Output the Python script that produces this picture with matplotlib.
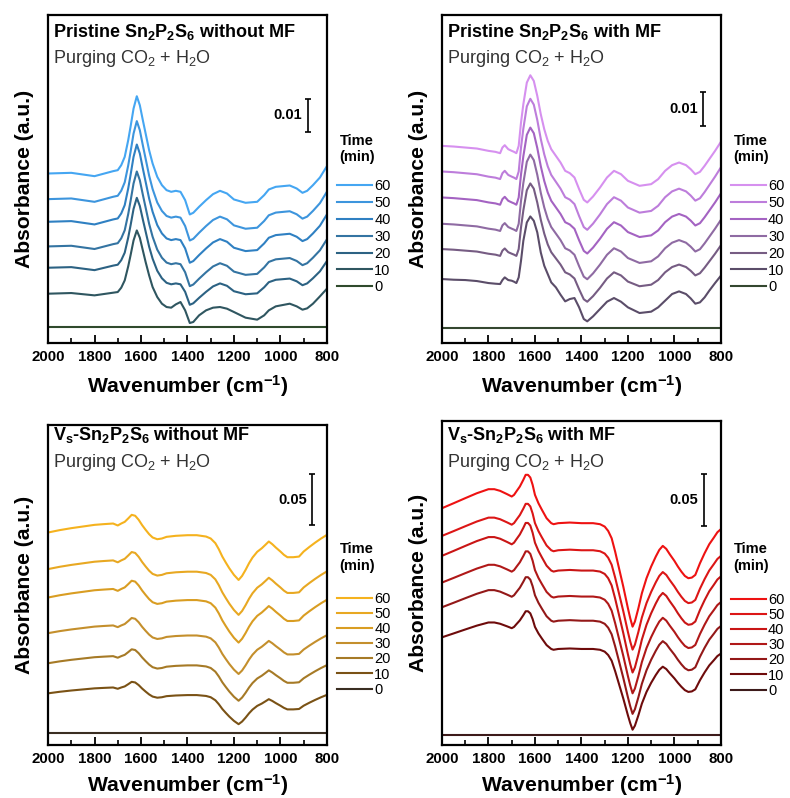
import matplotlib.pyplot as plt
from matplotlib.ticker import MultipleLocator

plt.rcParams['font.family'] = 'Liberation Sans'
plt.rcParams['mathtext.fontset'] = 'custom'
plt.rcParams['mathtext.rm'] = 'Liberation Sans'
plt.rcParams['mathtext.bf'] = 'Liberation Sans:bold'
plt.rcParams['mathtext.it'] = 'Liberation Sans:italic'

times = [60, 50, 40, 30, 20, 10, 0]

# --- Pristine Sn2P2S6 without MF ---
wn_a = [2000, 1900, 1800, 1720, 1700, 1685, 1670, 1655, 1645, 1632, 1618, 1605, 1592, 1580,
        1565, 1550, 1530, 1510, 1490, 1470, 1450, 1430, 1410, 1390, 1375, 1350, 1320, 1290,
        1260, 1230, 1200, 1150, 1100, 1070, 1050, 1020, 990, 960, 930, 905, 885, 860, 830, 800]
late_a = [0, 0.0002, -0.0008, 0.0007, 0.0010, 0.0025, 0.0050, 0.0100, 0.0140, 0.0195, 0.0232,
          0.0205, 0.0160, 0.0120, 0.0070, 0.0030, -0.0010, -0.0035, -0.0050, -0.0055, -0.0052,
          -0.0055, -0.0080, -0.0123, -0.0118, -0.0100, -0.0080, -0.0062, -0.0052, -0.0060,
          -0.0078, -0.0088, -0.0085, -0.0065, -0.0048, -0.0040, -0.0038, -0.0036, -0.0045,
          -0.0058, -0.0052, -0.0035, -0.0012, 0.0022]
first_a = [0, 0.0002, -0.0005, 0.0003, 0.0005, 0.0018, 0.0040, 0.0082, 0.0115, 0.0160, 0.0190,
           0.0168, 0.0130, 0.0095, 0.0055, 0.0020, -0.0010, -0.0030, -0.0040, -0.0042, -0.0032,
           -0.0025, -0.0050, -0.0088, -0.0085, -0.0065, -0.0050, -0.0042, -0.0040, -0.0045,
           -0.0055, -0.0072, -0.0078, -0.0065, -0.0050, -0.0038, -0.0034, -0.0030, -0.0038,
           -0.0048, -0.0044, -0.0030, -0.0008, 0.0015]
offset_a = [0.0461, 0.0384, 0.0316, 0.0242, 0.0178, 0.0100]
scale_a = [1.0, 1.01, 1.0, 0.97, 0.905]
colors_a = ['#45a6f2', '#3d95dd', '#2f80c2', '#3474a2', '#2c6283', '#2f5660', '#2f4a2c']

# --- Pristine Sn2P2S6 with MF ---
wn_b = [2000, 1950, 1900, 1850, 1800, 1770, 1750, 1740, 1730, 1715, 1700, 1690, 1680, 1670,
        1660, 1650, 1635, 1620, 1605, 1590, 1575, 1560, 1545, 1530, 1510, 1490, 1470, 1450,
        1430, 1410, 1390, 1375, 1350, 1320, 1290, 1260, 1230, 1200, 1150, 1100, 1070, 1040,
        1010, 980, 950, 930, 910, 890, 870, 850, 825, 800]
late_b = [0, -0.0002, -0.0005, -0.0008, -0.0015, -0.0018, -0.0022, -0.0005, 0.0002, -0.0010,
          -0.0015, -0.0018, -0.0022, 0.0000, 0.0070, 0.0125, 0.0190, 0.0212, 0.0195, 0.0150,
          0.0095, 0.0050, 0.0015, -0.0010, -0.0030, -0.0050, -0.0075, -0.0082, -0.0095,
          -0.0130, -0.0162, -0.0170, -0.0152, -0.0125, -0.0095, -0.0075, -0.0085, -0.0105,
          -0.0120, -0.0115, -0.0100, -0.0075, -0.0058, -0.0050, -0.0058, -0.0070, -0.0085,
          -0.0078, -0.0060, -0.0040, -0.0015, 0.0012]
first_b = [0, -0.0002, -0.0003, -0.0006, -0.0012, -0.0014, -0.0015, -0.0003, 0.0005, -0.0003,
           -0.0005, -0.0008, -0.0012, 0.0005, 0.0055, 0.0115, 0.0170, 0.0188, 0.0175, 0.0140,
           0.0080, 0.0040, 0.0015, -0.0010, -0.0025, -0.0047, -0.0067, -0.0060, -0.0057,
           -0.0085, -0.0120, -0.0127, -0.0112, -0.0090, -0.0068, -0.0057, -0.0068, -0.0085,
           -0.0102, -0.0098, -0.0085, -0.0065, -0.0045, -0.0037, -0.0045, -0.0058, -0.0074,
           -0.0070, -0.0055, -0.0035, -0.0012, 0.0010]
offset_b = [0.0547, 0.0470, 0.0392, 0.0313, 0.0237, 0.0147]
scale_b = [1.0, 1.03, 0.99, 0.98, 0.93]
colors_b = ['#d690ef', '#bd7ddb', '#a463c2', '#8f6ba3', '#765c83', '#5b4d69', '#34472f']

# --- Vs-Sn2P2S6 without MF ---
wn_c = [2000, 1950, 1900, 1850, 1800, 1760, 1720, 1700, 1685, 1670, 1655, 1640, 1625, 1610,
        1595, 1580, 1565, 1550, 1530, 1510, 1490, 1450, 1400, 1360, 1320, 1300, 1280, 1265,
        1250, 1235, 1220, 1200, 1180, 1165, 1150, 1135, 1120, 1100, 1080, 1065, 1050, 1035,
        1020, 1000, 985, 970, 945, 920, 900, 875, 850, 825, 800]
late_c = [0, 0.0023, 0.0042, 0.0058, 0.0074, 0.0081, 0.0087, 0.0068, 0.0087, 0.0103, 0.0136,
          0.0171, 0.0162, 0.0123, 0.0071, 0.0026, -0.0016, -0.0048, -0.0065, -0.0058, -0.0042,
          -0.0032, -0.0026, -0.0026, -0.0039, -0.0058, -0.0103, -0.0162, -0.0233, -0.0291,
          -0.0346, -0.0410, -0.0459, -0.0420, -0.0362, -0.0297, -0.0242, -0.0187, -0.0152,
          -0.0120, -0.0087, -0.0113, -0.0145, -0.0184, -0.0216, -0.0239, -0.0239, -0.0233,
          -0.0184, -0.0139, -0.0097, -0.0058, -0.0023]
offset_c = [0.1940, 0.1586, 0.1311, 0.0966, 0.0675, 0.0384]
scale_c = [1.0, 0.965, 0.95, 0.86, 0.79, 0.65]
colors_c = ['#f5b21e', '#e8a822', '#d99d22', '#c48f2c', '#a67a26', '#7a5215', '#3a2e22']

# --- Vs-Sn2P2S6 with MF ---
wn_d = [2000, 1950, 1900, 1850, 1800, 1775, 1750, 1720, 1700, 1690, 1680, 1665, 1650, 1640,
        1630, 1620, 1610, 1600, 1585, 1570, 1550, 1530, 1520, 1500, 1450, 1400, 1350, 1320,
        1300, 1285, 1270, 1255, 1240, 1220, 1200, 1190, 1180, 1170, 1155, 1140, 1120, 1100,
        1080, 1065, 1050, 1035, 1020, 1000, 985, 970, 955, 940, 925, 910, 890, 870, 850, 830,
        815, 800]
late_d = [0, 0.0048, 0.0097, 0.0145, 0.0184, 0.0184, 0.0168, 0.0136, 0.0113, 0.0129, 0.0162,
          0.0210, 0.0275, 0.0323, 0.0323, 0.0297, 0.0226, 0.0129, 0.0048, -0.0016, -0.0097,
          -0.0145, -0.0155, -0.0145, -0.0139, -0.0145, -0.0145, -0.0155, -0.0178, -0.0220,
          -0.0291, -0.0420, -0.0565, -0.0759, -0.0969, -0.1066, -0.1147, -0.1098, -0.0969,
          -0.0824, -0.0678, -0.0565, -0.0468, -0.0404, -0.0365, -0.0394, -0.0446, -0.0510,
          -0.0565, -0.0614, -0.0656, -0.0678, -0.0672, -0.0646, -0.0533, -0.0436, -0.0349,
          -0.0284, -0.0233, -0.0203]
offset_d = [0.2196, 0.1928, 0.1735, 0.1476, 0.1237, 0.0946]
scale_d = [1.0, 0.96, 0.985, 0.935, 0.9, 0.78]
colors_d = ['#ee1212', '#dc1616', '#c91515', '#b01818', '#931818', '#6e0b0b', '#3d1a1a']


def panel(ax, wn, late, first, offsets, scales, colors, ylim, bar, title, text_y, leg_y,
          leg_sp, xlab_y):
    for i, t in enumerate(times):
        if t == 0:
            y = [0.0 for _ in wn]
        elif first is not None and t == 10:
            y = [offsets[i] + v for v in first]
        else:
            y = [offsets[i] + scales[i] * v for v in late]
        ax.plot(wn, y, color=colors[i], lw=1.5, label=str(t))
    ax.set_xlim(2000, 800)
    ax.set_ylim(*ylim)
    ax.set_yticks([])
    ax.xaxis.set_major_locator(MultipleLocator(200))
    ax.xaxis.set_minor_locator(MultipleLocator(100))
    ax.tick_params(axis='x', which='major', direction='in', length=6, width=1.3,
                   labelsize=10.8, pad=5)
    ax.tick_params(axis='x', which='minor', direction='in', length=3.5, width=1.2)
    for lab in ax.get_xticklabels():
        lab.set_fontweight('bold')
    for s in ax.spines.values():
        s.set_linewidth(1.6)
    ax.set_xlabel('Wavenumber (cm$^{\\mathbf{-1}}$)', fontsize=15.2, fontweight='bold')
    ax.xaxis.set_label_coords(0.5, xlab_y)
    ax.set_ylabel('Absorbance (a.u.)', fontsize=15.2, fontweight='bold')
    ax.yaxis.set_label_coords(-0.05, 0.5)
    ax.text(0.017, text_y[0], title, transform=ax.transAxes, fontsize=13, fontweight='bold',
            va='baseline', ha='left')
    ax.text(0.017, text_y[1], 'Purging CO$_2$ + H$_2$O', transform=ax.transAxes, fontsize=13,
            va='baseline', ha='left', color='#333333')
    bx, by, bh, blab = bar
    ax.errorbar([bx], [by], yerr=[bh], color='k', capsize=2.2, lw=1.2, capthick=1.2)
    ax.text(bx + 24, by, blab, ha='right', va='center', fontsize=10.5, fontweight='bold')
    ax.text(1.108, leg_y[0], 'Time\n(min)', transform=ax.transAxes, ha='center', va='center',
            multialignment='center', fontsize=10.5, fontweight='bold', linespacing=1.23)
    ax.legend(loc='upper left', bbox_to_anchor=(1.036, leg_y[1]), frameon=False,
              fontsize=10.5, handlelength=2.4, handletextpad=0.15, labelspacing=leg_sp,
              borderaxespad=0, borderpad=0)


fig = plt.figure(figsize=(7.9, 7.98), dpi=100)
ax1 = fig.add_axes([0.0608, 0.5702, 0.353, 0.411])
ax2 = fig.add_axes([0.5595, 0.5702, 0.353, 0.411])
ax3 = fig.add_axes([0.0608, 0.0664, 0.353, 0.401])
ax4 = fig.add_axes([0.5595, 0.0664, 0.353, 0.406])

panel(ax1, wn_a, late_a, first_a, offset_a, scale_a, colors_a, (-0.0048, 0.0937),
      (883, 0.0636, 0.005, '0.01'),
      'Pristine Sn$_\\mathbf{2}$P$_\\mathbf{2}$S$_\\mathbf{6}$ without MF',
      (0.932, 0.854), (0.591, 0.500), 0.2, -0.092)
panel(ax2, wn_b, late_b, first_b, offset_b, scale_b, colors_b, (-0.0045, 0.094),
      (875, 0.0658, 0.005, '0.01'),
      'Pristine Sn$_\\mathbf{2}$P$_\\mathbf{2}$S$_\\mathbf{6}$ with MF',
      (0.932, 0.853), (0.591, 0.500), 0.2, -0.092)
panel(ax3, wn_c, late_c, None, offset_c, scale_c, colors_c, (-0.0116, 0.298),
      (862, 0.2258, 0.025, '0.05'),
      'V$_\\mathbf{s}$-Sn$_\\mathbf{2}$P$_\\mathbf{2}$S$_\\mathbf{6}$ without MF',
      (0.953, 0.870), (0.586, 0.479), 0.08, -0.084)
panel(ax4, wn_d, late_d, None, offset_d, scale_d, colors_d, (-0.0097, 0.304),
      (872, 0.2277, 0.025, '0.05'),
      'V$_\\mathbf{s}$-Sn$_\\mathbf{2}$P$_\\mathbf{2}$S$_\\mathbf{6}$ with MF',
      (0.941, 0.859), (0.579, 0.470), 0.08, -0.083)

fig.savefig('out.png', dpi=100)
